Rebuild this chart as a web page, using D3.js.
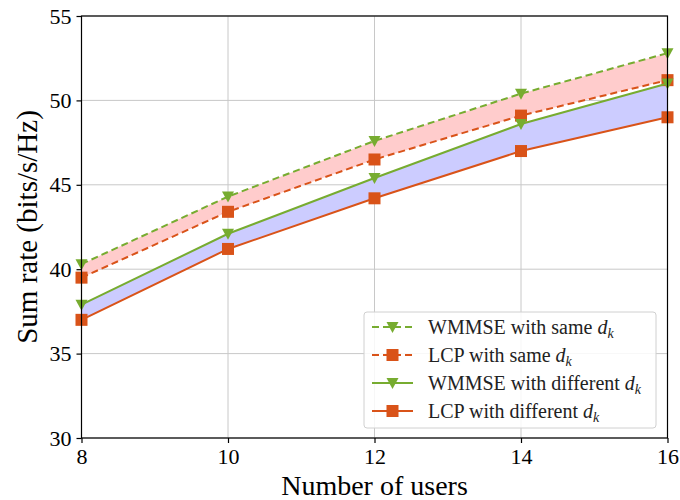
<!DOCTYPE html>
<html><head><meta charset="utf-8">
<script src="https://cdn.jsdelivr.net/npm/d3@7"></script>
<style>body{margin:0;background:#fff}svg{display:block}</style>
</head><body>
<svg id="c" width="680" height="500"></svg>
<script>
const users = [8, 10, 12, 14, 16];
const wmmseSame = [40.3, 44.3, 47.6, 50.4, 52.8];
const lcpSame   = [39.5, 43.4, 46.5, 49.1, 51.2];
const wmmseDiff = [37.9, 42.1, 45.4, 48.6, 51.0];
const lcpDiff   = [37.0, 41.2, 44.2, 47.0, 49.0];
const xTicks = [8, 10, 12, 14, 16];
const yTicks = [30, 35, 40, 45, 50, 55];

const green = "#77ac30", orange = "#d95319";
const font = "'Liberation Serif','Times New Roman',serif";
const svg = d3.select("#c");
const L = 81.5, R = 667.5, T = 16, B = 438;
const x = d3.scaleLinear().domain([8, 16]).range([L, R]);
const y = d3.scaleLinear().domain([30, 55]).range([B, T]);

// grid
const g = svg.append("g");
g.selectAll(".gx").data(xTicks).join("line")
  .attr("x1", d => x(d)).attr("x2", d => x(d)).attr("y1", T).attr("y2", B)
  .attr("stroke", "#c8c8c8").attr("stroke-width", 1);
g.selectAll(".gy").data(yTicks).join("line")
  .attr("x1", L).attr("x2", R).attr("y1", d => y(d)).attr("y2", d => y(d))
  .attr("stroke", "#c8c8c8").attr("stroke-width", 1);

// fills
function band(a, b, color) {
  const area = d3.area().x((d, i) => x(users[i])).y0((d, i) => y(b[i])).y1((d, i) => y(a[i]));
  svg.append("path").datum(users).attr("d", area).attr("fill", color);
}
band(wmmseSame, lcpSame, "#ffcccc");
band(wmmseDiff, lcpDiff, "#ccccff");

const line = d3.line().x((d, i) => x(users[i])).y(d => y(d));
function series(vals, color, dashed, marker) {
  svg.append("path").datum(vals).attr("d", line).attr("fill", "none")
    .attr("stroke", color).attr("stroke-width", 2)
    .attr("stroke-dasharray", dashed ? "7,4" : null);
  const m = svg.append("g");
  vals.forEach((v, i) => drawMarker(m, x(users[i]), y(v), color, marker));
}
function drawMarker(sel, cx, cy, color, marker) {
  if (marker === "tri") {
    sel.append("path").attr("d", `M${cx-6},${cy-5} L${cx+6},${cy-5} L${cx},${cy+6} Z`).attr("fill", color);
  } else {
    sel.append("rect").attr("x", cx-6).attr("y", cy-6).attr("width", 12).attr("height", 12).attr("fill", color);
  }
}
series(wmmseSame, green, true, "tri");
series(lcpSame, orange, true, "sq");
series(wmmseDiff, green, false, "tri");
series(lcpDiff, orange, false, "sq");

// frame
svg.append("rect").attr("x", L).attr("y", T).attr("width", R - L).attr("height", B - T)
  .attr("fill", "none").attr("stroke", "#000").attr("stroke-width", 1.2);

// axes
const xa = svg.append("g").attr("transform", `translate(0,${B})`)
  .call(d3.axisBottom(x).tickValues(xTicks).tickSize(5).tickPadding(5).tickFormat(d3.format("d")));
const ya = svg.append("g").attr("transform", `translate(${L},0)`)
  .call(d3.axisLeft(y).tickValues(yTicks).tickSize(5).tickPadding(5).tickFormat(d3.format("d")));
[xa, ya].forEach(a => {
  a.select(".domain").remove();
  a.selectAll("line").attr("stroke", "#000").attr("stroke-width", 1.2);
  a.selectAll("text").attr("font-family", font).attr("font-size", 22).attr("fill", "#000");
});

svg.append("text").attr("x", (L + R) / 2).attr("y", 495).attr("text-anchor", "middle")
  .attr("font-family", font).attr("font-size", 28).text("Number of users");
svg.append("text").attr("transform", `translate(37,${(T + B) / 2}) rotate(-90)`).attr("text-anchor", "middle")
  .attr("font-family", font).attr("font-size", 29).text("Sum rate (bits/s/Hz)");

// legend
const legendItems = [
  {pre: "WMMSE with same ", color: green, dashed: true, marker: "tri"},
  {pre: "LCP with same ", color: orange, dashed: true, marker: "sq"},
  {pre: "WMMSE with different ", color: green, dashed: false, marker: "tri"},
  {pre: "LCP with different ", color: orange, dashed: false, marker: "sq"}
];
const lg = svg.append("g");
lg.append("rect").attr("x", 364).attr("y", 312).attr("width", 292).attr("height", 116).attr("rx", 3)
  .attr("fill", "#fff").attr("fill-opacity", 0.85).attr("stroke", "#d0d0d0").attr("stroke-width", 1);
legendItems.forEach((it, i) => {
  const cy = 327 + i * 28;
  lg.append("line").attr("x1", 372).attr("x2", 413).attr("y1", cy).attr("y2", cy)
    .attr("stroke", it.color).attr("stroke-width", 2).attr("stroke-dasharray", it.dashed ? "7,4" : null);
  drawMarker(lg, 392.5, cy, it.color, it.marker);
  const t = lg.append("text").attr("x", 428).attr("y", cy + 7).attr("font-family", font).attr("font-size", 20).attr("fill", "#222");
  t.append("tspan").text(it.pre);
  t.append("tspan").attr("font-style", "italic").text("d");
  t.append("tspan").attr("font-style", "italic").attr("font-size", 14).attr("dy", 4).text("k");
});
</script>
</body></html>
